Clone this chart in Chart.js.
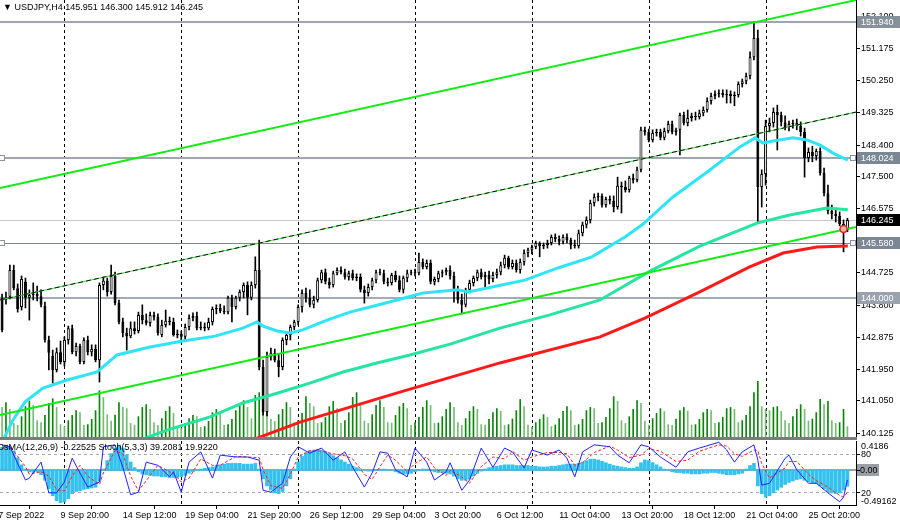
<!DOCTYPE html>
<html lang="en">
<head>
<meta charset="UTF-8">
<title>USDJPY H4</title>
<script src="https://cdn.jsdelivr.net/npm/chart.js"></script>
<style>
    body { margin: 0; width: 900px; height: 527px; overflow: hidden; position: relative; background: #fff;
           font-family: "Liberation Sans", Arial, sans-serif; }
    #main { position: absolute; left: 0; top: 0; }
    #sub { position: absolute; left: 0; top: 440px; }
    #sep { position: absolute; left: 0; top: 437px; width: 857px; height: 3px; background: #7c7c7c; }
    .title { position: absolute; font-size: 9px; color: #000; white-space: nowrap; }
</style>
</head>
<body>
<canvas id="main" width="900" height="437"></canvas>
<div id="sep"></div>
<canvas id="sub" width="900" height="87"></canvas>
<div class="title" style="left:3px;top:2px">&#9660; USDJPY,H4 145.951 146.300 145.912 146.245</div>
<div class="title" style="left:-3px;top:442px">OsMA(12,26,9) -0.22525 Stoch(5,3,3) 39.2081 19.9220</div>

<script>
    // USDJPY H4 candles, one row per bar: [open, high, low, close]
    const ohlc = [
        [144.01,144.12,143.03,143.09],[143.95,144.18,143.83,144.04],[144.04,144.95,143.98,144.81],[144.81,144.95,144.24,144.29],
        [144.29,144.41,143.60,143.69],[143.75,144.64,143.66,144.55],[144.47,144.58,143.72,144.01],[144.01,144.24,143.37,144.09],
        [144.09,144.44,143.95,144.12],[144.12,144.35,143.92,144.06],[144.06,144.24,143.75,143.81],[143.78,143.89,142.74,142.80],
        [142.80,142.91,141.94,142.43],[142.34,142.51,141.56,141.94],[141.94,142.57,141.88,142.45],[142.45,142.77,142.11,142.17],
        [142.17,142.89,142.05,142.80],[142.80,143.20,142.68,143.14],[143.14,143.23,142.40,142.45],[142.45,142.71,142.34,142.63],
        [142.63,142.68,142.11,142.17],[142.17,142.86,142.11,142.80],[142.80,142.91,142.37,142.45],[142.45,142.66,142.34,142.54],
        [142.54,142.66,142.17,142.22],[142.22,144.44,141.59,144.38],[144.38,144.61,144.24,144.50],[144.50,144.58,144.06,144.18],
        [144.18,144.95,144.12,144.64],[144.64,144.75,143.81,143.86],[143.86,143.95,143.26,143.32],[143.32,143.43,142.89,143.00],
        [143.00,143.14,142.51,142.91],[142.91,143.32,142.86,143.14],[143.14,143.32,142.97,143.06],[143.06,143.60,143.00,143.52],
        [143.52,143.81,143.26,143.37],[143.37,143.55,143.23,143.29],[143.29,143.60,143.20,143.52],[143.52,143.60,143.37,143.46],
        [143.46,143.55,142.94,143.00],[142.94,143.37,142.89,143.23],[143.23,143.66,143.17,143.35],[143.35,143.46,143.23,143.32],
        [143.32,143.43,142.91,142.94],[142.94,143.09,142.86,142.97],[142.97,143.06,142.80,142.89],[142.89,143.26,142.80,143.17],
        [143.17,143.52,143.09,143.43],[143.43,143.58,143.35,143.49],[143.49,143.60,143.09,143.14],[143.14,143.32,143.09,143.17],
        [143.17,143.29,143.06,143.14],[143.14,143.43,143.09,143.32],[143.32,143.75,143.23,143.69],[143.69,143.81,143.55,143.72],
        [143.72,143.83,143.58,143.63],[143.63,143.78,143.55,143.60],[143.60,144.06,143.55,144.01],[144.01,144.09,143.32,143.75],
        [143.75,144.06,143.69,144.01],[144.01,144.24,143.92,144.18],[144.18,144.44,144.01,144.38],[144.38,144.47,143.52,144.01],
        [144.01,144.47,143.95,144.38],[144.38,145.19,144.29,144.81],[144.81,145.67,141.94,142.02],[142.02,142.22,140.64,140.73],
        [140.73,142.45,140.62,142.31],[142.31,142.57,142.22,142.43],[142.43,142.54,142.17,142.22],[142.22,142.40,141.74,142.02],
        [142.02,142.86,141.94,142.80],[142.80,143.03,142.66,142.94],[142.94,143.23,142.80,143.17],[143.17,143.37,143.09,143.32],
        [143.32,143.81,143.23,143.75],[143.75,144.24,143.60,144.15],[144.15,144.29,143.89,144.01],[144.01,144.24,143.75,143.81],
        [143.81,144.06,143.72,143.95],[143.95,144.58,143.89,144.52],[144.52,144.81,144.44,144.75],[144.75,144.84,144.41,144.47],
        [144.47,144.58,144.29,144.38],[144.38,144.78,144.32,144.72],[144.72,144.87,144.67,144.81],[144.81,144.90,144.70,144.75],
        [144.75,144.84,144.55,144.61],[144.61,144.78,144.52,144.72],[144.72,144.81,144.52,144.58],[144.58,144.70,144.50,144.61],
        [144.61,144.70,144.18,144.24],[144.24,144.35,143.86,144.15],[144.15,144.41,144.06,144.32],[144.32,144.58,144.24,144.52],
        [144.52,144.81,144.44,144.75],[144.75,144.84,144.67,144.72],[144.72,144.81,144.41,144.47],[144.47,144.58,144.35,144.44],
        [144.44,144.72,144.38,144.67],[144.67,144.78,144.47,144.52],[144.52,144.64,144.18,144.24],[144.24,144.64,144.15,144.58],
        [144.58,144.81,144.47,144.72],[144.72,144.81,144.67,144.75],[144.75,144.84,144.64,144.72],[144.72,145.30,144.67,145.04],
        [145.04,145.13,144.84,144.90],[144.90,145.10,144.84,145.01],[145.01,145.10,144.41,144.47],[144.47,144.61,144.38,144.55],
        [144.55,144.78,144.47,144.72],[144.72,144.81,144.61,144.75],[144.75,144.87,144.67,144.81],[144.81,144.93,144.55,144.64],
        [144.64,144.75,143.89,144.24],[144.24,144.35,143.86,143.95],[143.95,144.12,143.55,143.81],[143.81,144.29,143.75,144.24],
        [144.24,144.52,144.15,144.44],[144.44,144.64,144.35,144.58],[144.58,144.81,144.50,144.75],[144.75,144.84,144.55,144.61],
        [144.61,144.75,144.32,144.67],[144.67,144.78,144.41,144.55],[144.55,144.75,144.47,144.67],[144.67,144.84,144.58,144.75],
        [144.75,145.04,144.67,144.95],[144.95,145.24,144.87,145.16],[145.16,145.21,144.84,144.90],[144.90,145.10,144.84,145.01],
        [145.01,145.10,144.75,144.81],[144.81,145.13,144.72,145.04],[145.04,145.39,144.95,145.30],[145.30,145.44,145.19,145.39],
        [145.39,145.53,145.27,145.47],[145.47,145.64,145.42,145.59],[145.59,145.62,145.19,145.50],[145.50,145.59,145.42,145.53],
        [145.53,145.67,145.44,145.59],[145.59,145.82,145.53,145.76],[145.76,145.85,145.62,145.70],[145.70,145.79,145.53,145.62],
        [145.62,145.82,145.56,145.76],[145.76,145.85,145.59,145.67],[145.67,145.73,145.42,145.53],[145.53,145.67,145.44,145.50],
        [145.50,145.96,145.44,145.87],[145.87,146.19,145.79,146.11],[146.11,146.34,146.02,146.25],[146.25,146.82,146.16,146.74],
        [146.74,147.00,146.65,146.91],[146.91,147.02,146.80,146.94],[146.94,147.00,146.62,146.68],[146.68,146.91,146.62,146.85],
        [146.85,146.94,146.71,146.80],[146.80,146.94,146.48,146.62],[146.62,147.48,146.56,147.23],[147.23,147.34,146.45,147.20],
        [147.20,147.37,147.05,147.11],[147.11,147.51,147.05,147.46],[147.46,147.57,147.31,147.40],[147.40,147.77,147.34,147.69],
        [147.69,148.92,147.63,148.84],[148.84,148.92,148.69,148.78],[148.78,148.86,148.49,148.55],[148.55,148.84,148.49,148.75],
        [148.75,148.86,148.66,148.78],[148.78,148.86,148.55,148.61],[148.61,148.89,148.55,148.81],[148.81,149.09,148.75,149.01],
        [149.01,149.09,148.72,148.78],[148.78,148.89,148.69,148.84],[148.84,149.32,148.12,149.27],[149.27,149.35,148.98,149.04],
        [149.04,149.41,148.95,149.18],[149.18,149.32,149.09,149.24],[149.24,149.35,149.12,149.21],[149.21,149.41,149.15,149.32],
        [149.32,149.50,149.24,149.41],[149.41,149.76,149.35,149.67],[149.67,149.90,149.58,149.81],[149.81,149.96,149.73,149.87],
        [149.87,149.99,149.78,149.90],[149.90,149.99,149.78,149.84],[149.84,149.99,149.61,149.87],[149.87,149.96,149.61,149.81],
        [149.81,149.93,149.53,149.84],[149.84,150.22,149.78,150.16],[150.16,150.30,150.07,150.24],[150.24,150.47,150.16,150.39],
        [150.39,151.08,150.30,150.93],[150.93,151.94,150.85,151.48],[151.48,151.71,146.16,147.20],[147.20,147.69,146.62,147.57],
        [147.57,149.12,147.25,148.95],[148.95,149.18,148.78,149.04],[149.04,149.47,148.92,149.35],[149.35,149.55,148.26,149.27],
        [149.27,149.35,148.95,149.06],[149.06,149.24,148.84,148.92],[148.92,149.09,148.81,149.01],[149.01,149.12,148.89,149.04],
        [149.04,149.15,148.84,148.95],[148.95,149.07,148.66,148.78],[148.78,148.89,147.48,148.03],[148.03,148.32,147.92,148.20],
        [148.20,148.37,147.92,148.09],[148.09,148.29,147.97,148.23],[148.23,148.32,147.54,147.60],[147.60,147.74,146.94,147.02],
        [147.02,147.25,146.42,146.51],[146.51,146.68,146.28,146.42],[146.42,146.59,146.19,146.36],[146.36,146.48,146.08,146.13],
        [146.13,146.25,145.33,145.96],[145.951,146.300,145.912,146.245]
    ];

    // tick volume per bar
    const volumes = [
        7400, 8600, 6900, 3400,
        2900, 5100, 7600, 9000, 7900, 4100,   3600, 5400, 8400, 9600, 7400, 3100,
        2600, 4100, 5400, 6600, 6100, 2900,   3100, 4400, 6600, 11600, 9900, 5600,
        4000, 5500, 8600, 7400, 7100, 3400,   3000, 5100, 7400, 8100, 6900, 3600,
        2900, 4600, 6400, 7600, 5900, 2600,   2100, 3400, 4600, 5400, 5100, 2400,
        2600, 3900, 6100, 6900, 6100, 2900,   3100, 4400, 6600, 7900, 9100, 7400,
        4600, 10400, 11100, 9900, 8600, 4400, 3900, 5600, 6900, 8600, 7400, 3600,
        4100, 5900, 10100, 8400, 7600, 3400,  3600, 4900, 7600, 8900, 7100, 3400,
        4100, 6100, 9900, 11100, 8400, 4000,  3400, 5600, 7900, 9100, 7400, 3600,
        3500, 5400, 7600, 8400, 7100, 2900,   3600, 4900, 7400, 9100, 7900, 3400,
        3500, 5100, 6900, 8600, 7400, 3600,   2900, 4600, 6400, 7600, 6900, 3100,
        3000, 4400, 6100, 7100, 6400, 2900,   3100, 4500, 6600, 9400, 7600, 3000,
        2400, 3600, 4400, 5600, 4900, 2600,   3000, 4600, 6400, 7600, 6600, 2900,
        3100, 4400, 6600, 7400, 7100, 3400,   3600, 4900, 7100, 10100, 8900, 4100,
        3400, 5100, 6900, 9100, 8400, 4000,   3000, 4600, 5900, 7100, 6400, 3100,
        2900, 4500, 6600, 7400, 6500, 3000,   3100, 4400, 6100, 6900, 6600, 3400,
        3600, 4900, 7100, 7400, 6900, 3600,   4100, 5400, 7600, 11100, 13900, 7600,
        6900, 6600, 7400, 7600, 6400, 4100,   3400, 5100, 6900, 8100, 6900, 4000,
        4500, 6100, 9400, 8100, 8900, 4100,
        3400, 3600, 6900, 2600
    ];

    // moving averages, read as [bar, price] points
    const maFast = [[0.24,139.92],[2.8,140.50],[5.9,141.02],[10.5,141.42],[16.7,141.65],[24.4,141.88],[29.5,142.37],
        [38,142.60],[46.4,142.77],[54.7,142.91],[61.8,143.14],[65.4,143.32],[67,143.20],[70.6,143.06],[74,143.00],
        [77.2,143.09],[83.4,143.37],[89.3,143.60],[96.2,143.80],[101.4,143.95],[108,144.15],[117,144.24],[119.6,144.18],
        [125.8,144.32],[134.2,144.52],[142.7,144.87],[151.4,145.19],[159.9,145.76],[164.3,146.11],[172.2,146.91],
        [181,147.63],[189.4,148.35],[193.3,148.61],[195.3,148.46],[197.9,148.52],[203,148.61],[206.6,148.55],
        [210,148.40],[213.3,148.17],[217.1,147.97]];
    const maMid = [[35.4,139.92],[42.3,140.21],[53.4,140.59],[61.8,140.99],[70.6,141.27],[79,141.56],[87.5,141.88],
        [96.2,142.14],[104.7,142.37],[115,142.68],[127.8,143.14],[140.6,143.52],[153.5,143.95],[166.3,144.78],
        [179.1,145.50],[193.8,146.16],[202.2,146.39],[211.7,146.59],[217.1,146.54]];
    const maSlow = [[63.6,139.90],[76.5,140.44],[102.1,141.30],[127.8,142.14],[153.5,142.89],[165,143.43],
        [179.1,144.18],[191.9,144.90],[200.5,145.30],[209.2,145.47],[217.1,145.50]];

    // trend channel, [bar, price] at each end
    const chanUpper = [[-0.53,147.17],[219.2,152.57]];
    const chanMiddle = [[-0.53,143.95],[219.2,149.35]];
    const chanLower = [[-0.53,140.64],[219.2,146.05]];

    const levelPrices = [151.940, 148.024, 146.245, 145.580, 144.000];
    const priceTicks = [152.100, 151.175, 150.250, 149.325, 148.400, 147.500, 146.575, 145.650,
                        144.725, 143.800, 142.875, 141.950, 141.050, 140.125];

    // OsMA(12,26,9) histogram per bar
    const osma = [
        0.33,0.36,0.34,0.28,0.18,0.08,  0.02,-0.02,-0.03,-0.02,-0.06,-0.14,
        -0.26,-0.36,-0.43,-0.46,-0.45,-0.40,  -0.33,-0.30,-0.29,-0.27,-0.26,-0.25,
        -0.24,-0.15,0.02,0.14,0.24,0.32,  0.36,0.32,0.22,0.12,0.04,-0.02,
        -0.05,-0.06,-0.07,-0.08,-0.08,-0.09,  -0.09,-0.10,-0.10,-0.10,-0.09,-0.07,
        -0.04,-0.02,0.00,0.02,0.03,0.04,  0.05,0.07,0.08,0.09,0.10,0.10,
        0.10,0.10,0.09,0.09,0.09,0.10,  0.02,-0.12,-0.22,-0.28,-0.32,-0.33,
        -0.30,-0.22,-0.12,0.02,0.12,0.20,  0.25,0.28,0.29,0.30,0.29,0.27,
        0.24,0.21,0.18,0.15,0.12,0.09,  0.06,0.04,0.02,0.00,-0.01,-0.01,
        0.01,0.02,0.02,0.01,0.00,-0.02,  -0.04,-0.05,-0.05,-0.04,-0.02,0.01,
        0.02,0.02,0.00,-0.02,-0.03,-0.03,  -0.04,-0.05,-0.08,-0.12,-0.14,-0.14,
        -0.12,-0.08,-0.04,-0.01,0.02,0.04,  0.05,0.06,0.07,0.08,0.08,0.08,
        0.07,0.07,0.07,0.07,0.06,0.06,  0.05,0.05,0.05,0.06,0.06,0.07,
        0.08,0.09,0.09,0.09,0.10,0.12,  0.14,0.16,0.16,0.15,0.13,0.11,
        0.09,0.07,0.06,0.05,0.04,0.03,  0.03,0.05,0.11,0.15,0.14,0.11,
        0.08,0.05,0.02,0.00,-0.02,-0.03,  -0.03,-0.04,-0.04,-0.05,-0.05,-0.05,
        -0.04,-0.04,-0.03,-0.03,-0.04,-0.05,  -0.06,-0.06,-0.06,-0.05,-0.04,0.02,
        0.07,0.10,-0.22,-0.33,-0.38,-0.36,  -0.32,-0.28,-0.24,-0.20,-0.17,-0.15,
        -0.13,-0.12,-0.14,-0.16,-0.18,-0.19,  -0.22,-0.26,-0.30,-0.32,-0.33,-0.32,
        -0.28,-0.22525
    ];

    // Stochastic(5,3,3), sampled at these bars
    const stochBars = [0,2,6,7,10,12,14,16,18,20,22,25,26,29,31,33,35,37,40,43,44,46,48,51,54,56,60,63,66,67,
        69,72,74,76,79,82,85,88,90,93,95,97,99,101,104,106,109,111,114,115,118,120,123,126,129,131,134,136,140,143,
        145,147,149,152,156,158,161,164,166,169,173,176,179,184,186,188,190,193,194,195,197,201,202,204,207,209,212,215,216,217];
    const stochMain = [94,91,39,42,67,19,19,36,73,50,28,36,91,94,59,16,20,67,62,44,52,20,67,83,42,78,75,75,70,23,
        20,34,75,91,81,89,70,83,59,28,50,83,81,55,44,89,67,39,52,66,23,39,89,59,89,83,58,86,78,86,
        73,44,83,94,91,78,66,94,91,75,59,83,89,98,86,67,83,94,70,31,34,73,78,55,34,34,19,5,12,39.21];
    const stochSignal = [88,92,60,48,52,45,24,22,45,62,45,32,50,85,80,45,22,38,62,52,49,36,42,72,62,62,76,75,74,55,
        30,26,48,75,85,84,80,77,72,48,40,60,78,70,52,65,75,58,46,54,44,34,60,75,72,84,70,75,82,82,
        80,62,66,82,92,86,74,78,88,84,68,70,84,94,92,80,76,86,85,65,42,58,68,68,48,38,28,15,12,19.92];

    const timeTicks = [-1, 15, 31, 47, 63, 79, 95, 111, 127, 143, 159, 175, 191, 207];
    const timeLabels = ['7 Sep 2022', '9 Sep 20:00', '14 Sep 12:00', '19 Sep 04:00', '21 Sep 20:00', '26 Sep 12:00',
        '29 Sep 04:00', '3 Oct 20:00', '6 Oct 12:00', '11 Oct 04:00', '13 Oct 20:00', '18 Oct 12:00',
        '21 Oct 04:00', '25 Oct 20:00'];
    const weekStarts = [16, 46, 76, 106, 136, 166, 196];
    const alertMark = [216, 145.99];

    // ---------------------------------------------------------------
    Chart.defaults.font.family = '"Liberation Sans", Arial, sans-serif';
    Chart.defaults.font.size = 9;
    Chart.defaults.color = '#000';

    const xMin = -0.534, xMax = 219.2;
    const levelLook = [
        { line: '#9ea7b0', width: 2, box: '#87919b', text: '#fff' },
        { line: '#9ea7b0', width: 2, box: '#7b8794', text: '#fff' },
        { line: '#c6c6c6', width: 1, box: '#000000', text: '#fff' },
        { line: '#7b8794', width: 1, box: '#7b8794', text: '#fff' },
        { line: '#a3acb5', width: 2, box: '#9aa3ad', text: '#fff' }
    ];

    function lineSet(pts, color, width, order, dash) {
        return {
            type: 'line', data: pts.map(p => ({ x: p[0], y: p[1] })), yAxisID: 'y',
            borderColor: color, borderWidth: width, borderDash: dash || [],
            pointRadius: 0, tension: 0, fill: false, order: order
        };
    }

    function weekLines(chart) {
        const { ctx, chartArea: a, scales: { x } } = chart;
        ctx.save();
        ctx.strokeStyle = '#000';
        ctx.lineWidth = 1;
        ctx.setLineDash([3, 3]);
        weekStarts.forEach(i => {
            const px = Math.round(x.getPixelForValue(i)) + 0.5;
            ctx.beginPath();
            ctx.moveTo(px, a.top);
            ctx.lineTo(px, a.bottom);
            ctx.stroke();
        });
        ctx.restore();
    }

    function anchorBox(ctx, x, y) {
        ctx.fillStyle = '#fff';
        ctx.strokeStyle = '#8a949e';
        ctx.lineWidth = 1;
        ctx.fillRect(x, y - 2, 5, 5);
        ctx.strokeRect(x + 0.5, y - 2.5, 5, 5);
    }

    const mainDecor = {
        id: 'mainDecor',
        beforeDatasetsDraw(chart) {
            weekLines(chart);
            const { ctx, chartArea: a, scales: { y } } = chart;
            ctx.save();
            levelPrices.forEach((v, k) => {
                const py = Math.round(y.getPixelForValue(v));
                ctx.strokeStyle = levelLook[k].line;
                ctx.lineWidth = levelLook[k].width;
                ctx.beginPath();
                ctx.moveTo(a.left, py + (levelLook[k].width === 1 ? 0.5 : 0));
                ctx.lineTo(a.right, py + (levelLook[k].width === 1 ? 0.5 : 0));
                ctx.stroke();
            });
            ctx.restore();
        },
        afterDraw(chart) {
            const { ctx, chartArea: a, scales: { x, y } } = chart;
            ctx.save();
            ctx.font = '9px "Liberation Sans", Arial, sans-serif';
            ctx.textBaseline = 'middle';
            levelPrices.forEach((v, k) => {
                const py = Math.round(y.getPixelForValue(v));
                ctx.fillStyle = levelLook[k].box;
                ctx.fillRect(a.right + 1, py - 6, 43, 12);
                ctx.fillStyle = levelLook[k].text;
                ctx.fillText(v.toFixed(3), a.right + 5, py + 0.5);
            });
            [148.024, 145.580].forEach(v => {
                const py = Math.round(y.getPixelForValue(v));
                anchorBox(ctx, a.left - 1, py);
                anchorBox(ctx, a.right - 6, py);
            });
            // alert marker near the last bars
            const mx = x.getPixelForValue(alertMark[0]), my = y.getPixelForValue(alertMark[1]);
            ctx.beginPath();
            ctx.arc(mx, my, 3.5, 0, Math.PI * 2);
            ctx.fillStyle = '#f4b0a8';
            ctx.fill();
            ctx.strokeStyle = '#d42a1e';
            ctx.lineWidth = 1.5;
            ctx.stroke();
            ctx.restore();
        }
    };

    const wickData = ohlc.map((c, i) => ({ x: i, y: [c[2], c[1]] }));
    const bodyData = ohlc.map((c, i) => ({ x: i, y: [c[0], c[3]] }));
    const bodyFill = ohlc.map(c => c[3] >= c[0] ? '#ffffff' : '#000000');
    const volData = volumes.map((v, i) => ({ x: i, y: v }));
    const volColor = volumes.map((v, i) => (i > 0 && v > volumes[i - 1]) ? '#0b840b' : '#76bb76');

    new Chart(document.getElementById('main'), {
        type: 'bar',
        data: {
            datasets: [
                { data: volData, yAxisID: 'yv', backgroundColor: volColor, barThickness: 1, grouped: false, order: 6 },
                { data: wickData, yAxisID: 'y', backgroundColor: '#000', barThickness: 1, grouped: false, order: 5 },
                { data: bodyData, yAxisID: 'y', backgroundColor: bodyFill, borderColor: '#000', borderWidth: 1,
                  borderSkipped: false, inflateAmount: 0, barThickness: 3, minBarLength: 1, grouped: false, order: 4 },
                lineSet(maSlow, '#ff1a1a', 3, 3),
                lineSet(maMid, '#24e6a0', 3, 3),
                lineSet(maFast, '#2ee4f6', 3, 3),
                lineSet(chanUpper, '#12ec12', 2, 1),
                lineSet(chanLower, '#12ec12', 2, 1),
                lineSet(chanMiddle, '#30e030', 1, 1),
                lineSet(chanMiddle, '#101010', 1, 0, [5, 3])
            ]
        },
        options: {
            responsive: false,
            animation: false,
            events: [],
            layout: { padding: 0 },
            plugins: { legend: { display: false }, tooltip: { enabled: false } },
            scales: {
                x: { type: 'linear', min: xMin, max: xMax, display: false, offset: false },
                y: {
                    type: 'linear', position: 'right', min: 140.011, max: 152.572, beginAtZero: false,
                    afterBuildTicks: s => { s.ticks = priceTicks.map(v => ({ value: v })); },
                    afterFit: s => { s.width = 44; s.paddingTop = 0; s.paddingBottom = 0; },
                    ticks: { callback: v => v.toFixed(3), padding: 1, autoSkip: false, color: '#000', font: { size: 9 } },
                    grid: { display: true, drawOnChartArea: false, drawTicks: true, tickLength: 4, color: '#000' },
                    border: { display: true, color: '#000', width: 1 }
                },
                yv: { type: 'linear', display: false, min: 0, max: 109250 }
            }
        },
        plugins: [mainDecor]
    });

    // ---------------- OsMA + Stochastic window ----------------
    const subDecor = {
        id: 'subDecor',
        beforeDatasetsDraw(chart) {
            weekLines(chart);
            const { ctx, chartArea: a, scales: { yo, ys } } = chart;
            ctx.save();
            ctx.strokeStyle = '#a8a8a8';
            ctx.lineWidth = 1;
            ctx.setLineDash([3, 3]);
            [80, 20].forEach(v => {
                const py = Math.round(ys.getPixelForValue(v)) + 0.5;
                ctx.beginPath(); ctx.moveTo(a.left, py); ctx.lineTo(a.right, py); ctx.stroke();
            });
            ctx.setLineDash([]);
            ctx.strokeStyle = '#a0a0a0';
            ctx.lineWidth = 2;
            const zy = Math.round(yo.getPixelForValue(0));
            ctx.beginPath(); ctx.moveTo(a.left, zy); ctx.lineTo(a.right, zy); ctx.stroke();
            ctx.restore();
        },
        afterDraw(chart) {
            const { ctx, chartArea: a, scales: { yo, ys } } = chart;
            ctx.save();
            ctx.font = '9px "Liberation Sans", Arial, sans-serif';
            ctx.fillStyle = '#000';
            ctx.textBaseline = 'top';
            ctx.fillText('0.4186', a.right + 5, a.top + 1);
            ctx.textBaseline = 'bottom';
            ctx.fillText('-0.49162', a.right + 5, a.bottom + 1);
            ctx.textBaseline = 'middle';
            [80, 20].forEach(v => ctx.fillText(String(v), a.right + 5, ys.getPixelForValue(v) + 1));
            const zy = Math.round(yo.getPixelForValue(0));
            ctx.fillStyle = '#9a9fa5';
            ctx.fillRect(a.right + 1, zy - 6, 22, 12);
            ctx.fillStyle = '#000';
            ctx.fillText('0.00', a.right + 4, zy + 0.5);
            ctx.strokeStyle = '#000';
            ctx.lineWidth = 1;
            [ys.getPixelForValue(80), zy, ys.getPixelForValue(20)].forEach(py => {
                ctx.beginPath(); ctx.moveTo(a.right, Math.round(py) + 0.5); ctx.lineTo(a.right + 4, Math.round(py) + 0.5); ctx.stroke();
            });
            ctx.restore();
        }
    };

    new Chart(document.getElementById('sub'), {
        type: 'bar',
        data: {
            datasets: [
                { data: osma.map((v, i) => ({ x: i, y: v })), yAxisID: 'yo', backgroundColor: '#33c2ee',
                  barThickness: 3, grouped: false, order: 3 },
                { type: 'line', data: stochBars.map((b, k) => ({ x: b, y: stochSignal[k] })), yAxisID: 'ys',
                  borderColor: '#ff2020', borderWidth: 1, borderDash: [3, 2], pointRadius: 0, tension: 0, order: 1 },
                { type: 'line', data: stochBars.map((b, k) => ({ x: b, y: stochMain[k] })), yAxisID: 'ys',
                  borderColor: '#2020ff', borderWidth: 1, pointRadius: 0, tension: 0, order: 0 }
            ]
        },
        options: {
            responsive: false,
            animation: false,
            events: [],
            layout: { padding: { top: 1, left: 0, right: 0, bottom: 0 } },
            plugins: { legend: { display: false }, tooltip: { enabled: false } },
            scales: {
                x: {
                    type: 'linear', position: 'bottom', min: xMin, max: xMax, offset: false,
                    afterBuildTicks: s => { s.ticks = timeTicks.map(v => ({ value: v })); },
                    afterFit: s => { s.height = 22; s.paddingLeft = 0; s.paddingRight = 0; },
                    ticks: { autoSkip: false, maxRotation: 0, minRotation: 0, align: 'start', padding: 1,
                             color: '#000', font: { size: 9 }, callback: (v, i) => timeLabels[i] },
                    grid: { display: true, drawOnChartArea: false, drawTicks: true, tickLength: 4, color: '#000' },
                    border: { display: true, color: '#000' }
                },
                yo: {
                    type: 'linear', position: 'right', min: -0.49162, max: 0.4186, beginAtZero: false,
                    ticks: { display: false },
                    grid: { display: false, drawTicks: false },
                    border: { display: true, color: '#000' },
                    afterFit: s => { s.width = 44; s.paddingTop = 0; s.paddingBottom = 0; }
                },
                ys: { type: 'linear', display: false, min: 0, max: 100 }
            }
        },
        plugins: [subDecor]
    });
</script>
</body>
</html>
